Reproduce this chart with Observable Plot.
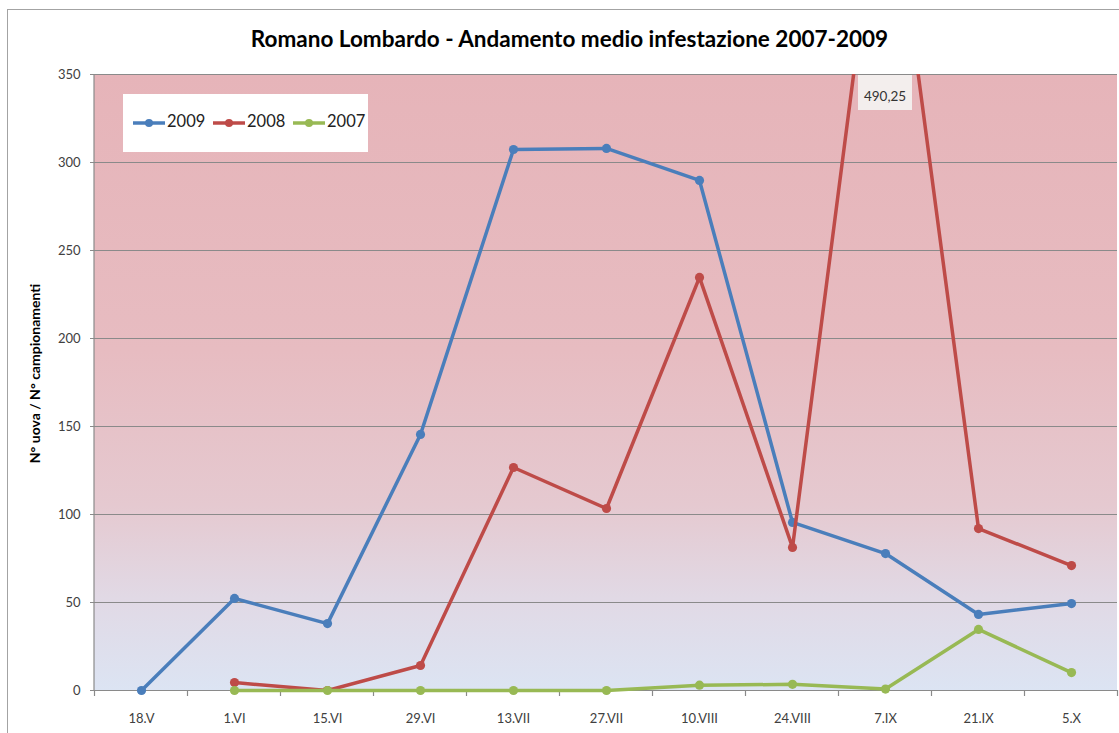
<!DOCTYPE html>
<html>
<head>
<meta charset="utf-8">
<script src="https://cdn.jsdelivr.net/npm/d3@7"></script>
<script src="https://cdn.jsdelivr.net/npm/@observablehq/plot@0.6"></script>
<style>
  html, body { margin: 0; padding: 0; background: #fff; }
  #wrap { position: relative; width: 1119px; height: 733px; overflow: hidden; background: #fff; font-family: Lato, "Open Sans", sans-serif; }
  #border { position: absolute; left: 7px; top: 9px; width: 1300px; height: 900px; border-left: 1.5px solid #a3a3a3; border-top: 1.5px solid #a3a3a3; }
  #title { position: absolute; left: 10px; top: 25px; width: 1119px; text-align: center; font-size: 22.5px; font-weight: bold; line-height: 1.2; color: #000; margin: 0; }
  #chart { position: absolute; left: 0; top: 0; }
  #legend { position: absolute; left: 123px; top: 94px; width: 245px; height: 58px; background: #fff; }
  .item { position: absolute; top: 0; height: 58px; }
  .item svg { position: absolute; left: 0; top: 24px; }
  .item span { position: absolute; left: 34px; top: 17px; font-size: 16.5px; color: #222; white-space: nowrap; }
</style>
</head>
<body>
<div id="wrap">
  <div id="border"></div>
  <div id="chart"></div>
  <div id="title">Romano Lombardo - Andamento medio infestazione 2007-2009</div>
  <div id="legend"></div>
</div>
<script>
// ---- Data ----
const dates = ["18.V", "1.VI", "15.VI", "29.VI", "13.VII", "27.VII", "10.VIII", "24.VIII", "7.IX", "21.IX", "5.X"];
const series = ["2009", "2008", "2007"];
const colors = ["#4a7ebb", "#be4b48", "#98b954"];
const values2009 = [0, 52.3, 38, 145.5, 307.4, 308, 289.8, 95.5, 77.8, 43.2, 49.4];
const values2008 = [null, 4.5, 0, 14.2, 126.7, 103.4, 234.7, 81.3, 490.25, 92, 71];
const values2007 = [null, 0, 0, 0, 0, 0, 3, 3.5, 0.8, 34.7, 10.2];
const yTicks = [0, 50, 100, 150, 200, 250, 300, 350];
const yLabel = "N° uova / N° campionamenti";
const annotationDate = "7.IX";
const annotationText = "490,25";

const toRows = (vals) => dates.map((d, i) => ({date: d, value: vals[i]})).filter(r => r.value != null);
const rows2009 = toRows(values2009);
const rows2008 = toRows(values2008);
const rows2007 = toRows(values2007);

// background gradient + frame decorations
function background(index, scales, values, dims) {
  const g = d3.create("svg:g");
  const grad = g.append("defs").append("linearGradient")
    .attr("id", "bgGrad").attr("x1", 0).attr("y1", 0).attr("x2", 0).attr("y2", 1);
  [[0, "#e6b4b9"], [0.45, "#e7bcc1"], [0.7, "#e5c9d0"], [0.85, "#e1d9e5"], [1, "#dce4f3"]]
    .forEach(([o, c]) => grad.append("stop").attr("offset", o).attr("stop-color", c));
  g.append("rect")
    .attr("x", dims.marginLeft).attr("y", dims.marginTop)
    .attr("width", dims.width - dims.marginLeft - dims.marginRight)
    .attr("height", dims.height - dims.marginTop - dims.marginBottom)
    .attr("fill", "url(#bgGrad)");
  return g.node();
}

function frameDecor(index, scales, values, dims) {
  const g = d3.create("svg:g");
  const bottom = dims.height - dims.marginBottom;
  const step = scales.x(dates[1]) - scales.x(dates[0]);
  const bounds = dates.map(d => scales.x(d) - step / 2).concat([scales.x(dates[dates.length - 1]) + step / 2]);
  g.selectAll("line.tick").data(bounds).join("line")
    .attr("x1", d => d).attr("x2", d => d)
    .attr("y1", bottom).attr("y2", bottom + 6)
    .attr("stroke", "#8a8a8a").attr("stroke-width", 1.2);
  g.append("line")
    .attr("x1", dims.marginLeft).attr("x2", dims.marginLeft)
    .attr("y1", dims.marginTop).attr("y2", bottom)
    .attr("stroke", "#8a8a8a").attr("stroke-width", 1.2);
  return g.node();
}

function annotation(index, scales, values, dims) {
  const g = d3.create("svg:g");
  const cx = scales.x(annotationDate);
  const top = dims.marginTop;
  g.append("rect").attr("x", cx - 27).attr("y", top + 1).attr("width", 54).attr("height", 35)
    .attr("fill", "#f3eeed");
  g.append("text").attr("x", cx).attr("y", top + 27)
    .attr("text-anchor", "middle").attr("font-size", 13.5).attr("fill", "#333")
    .text(annotationText);
  return g.node();
}

const lineOpts = (color) => ({x: "date", y: "value", stroke: color, strokeWidth: 3.5, strokeLinejoin: "round"});
const dotOpts = (color) => ({x: "date", y: "value", fill: color, r: 4.6});

const chart = Plot.plot({
  width: 1119,
  height: 733,
  marginTop: 74,
  marginBottom: 43,
  marginLeft: 94,
  marginRight: 2,
  style: {fontFamily: "Lato, 'Open Sans', sans-serif", background: "transparent", overflow: "visible"},
  x: {type: "point", domain: dates, padding: 0.5},
  y: {domain: [0, 350], ticks: yTicks},
  marks: [
    background,
    Plot.gridY(yTicks, {stroke: "#8a8a8a", strokeOpacity: 1, strokeWidth: 1.2}),
    frameDecor,
    Plot.axisY(yTicks, {tickSize: 4, tickPadding: 10, fontSize: 13, color: "#404040", stroke: "#8a8a8a", label: null}),
    Plot.axisX({tickSize: 0, tickPadding: 23, fontSize: 13, color: "#404040", label: null}),
    Plot.text([yLabel], {frameAnchor: "left", textAnchor: "middle", text: d => d, rotate: -90, dx: -59, dy: -9, fontSize: 14, fontWeight: "bold", fill: "#000"}),
    Plot.line(rows2009, lineOpts(colors[0])),
    Plot.dot(rows2009, dotOpts(colors[0])),
    Plot.line(rows2008, {...lineOpts(colors[1]), clip: "frame"}),
    Plot.dot(rows2008, {...dotOpts(colors[1]), clip: "frame"}),
    Plot.line(rows2007, lineOpts(colors[2])),
    Plot.dot(rows2007, dotOpts(colors[2])),
    annotation
  ]
});
document.getElementById("chart").appendChild(chart);

// legend
const legend = document.getElementById("legend");
series.forEach((s, i) => {
  const item = document.createElement("div");
  item.className = "item";
  item.style.left = (10 + i * 80) + "px";
  item.innerHTML = `<svg width="34" height="10"><line x1="0" x2="32" y1="5" y2="5" stroke="${colors[i]}" stroke-width="3.5"/><circle cx="16" cy="5" r="4" fill="${colors[i]}"/></svg><span>${s}</span>`;
  legend.appendChild(item);
});
</script>
</body>
</html>
